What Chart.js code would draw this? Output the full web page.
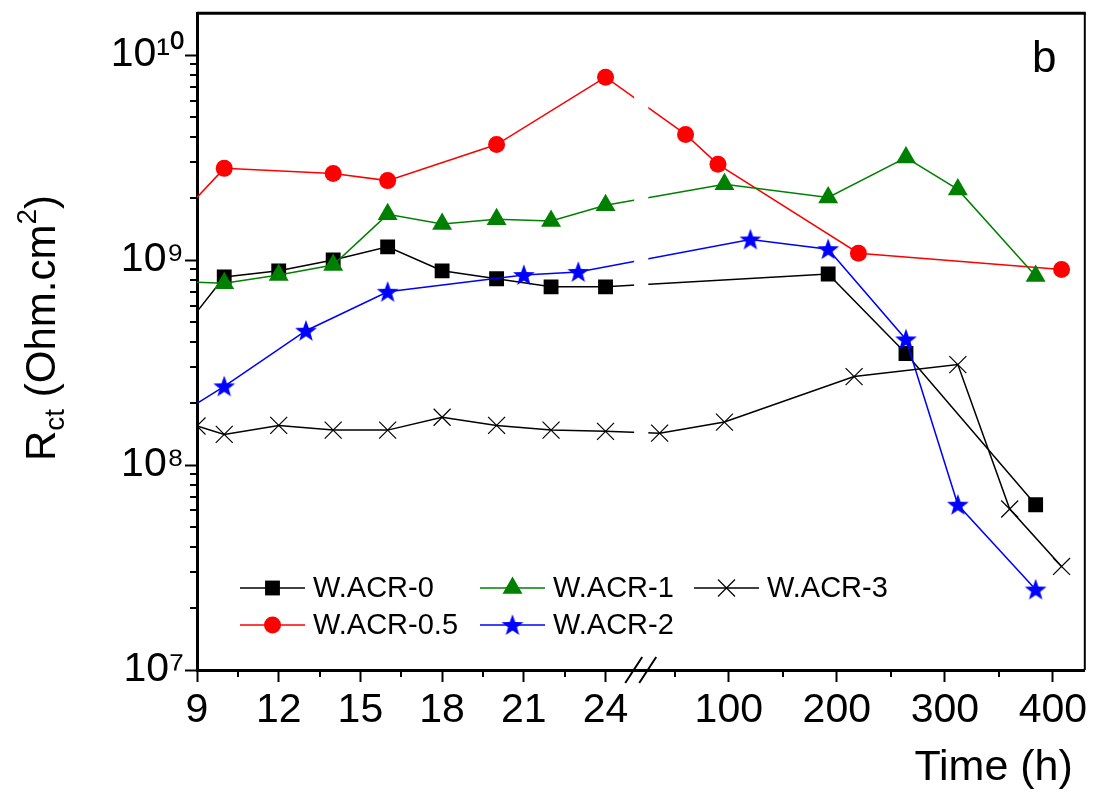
<!DOCTYPE html>
<html><head><meta charset="utf-8">
<script src="https://cdn.jsdelivr.net/npm/chart.js@4/dist/chart.umd.min.js"></script>
<style>html,body{margin:0;padding:0;background:#fff;} canvas{display:block;}</style>
</head><body>
<canvas id="c" width="1098" height="804"></canvas>
<script>
const FONT = "'Liberation Sans', Arial, sans-serif";

// ---------- data (hours, R_ct in Ohm.cm^2) ----------
const seriesNames = ['W.ACR-0', 'W.ACR-0.5', 'W.ACR-1', 'W.ACR-2', 'W.ACR-3'];

const hoursW0  = [8, 10, 12, 14, 16, 18, 20, 22, 24, 192, 264, 384];
const rctW0    = [3.8e8, 8.26e8, 8.86e8, 1.0e9, 1.16e9, 8.86e8, 8.1e8, 7.4e8, 7.4e8, 8.55e8, 3.5e8, 6.4e7];

const hoursW05 = [8, 10, 14, 16, 20, 24, 60, 90, 220, 408];
const rctW05   = [1.46e9, 2.8e9, 2.64e9, 2.44e9, 3.66e9, 7.8e9, 4.1e9, 2.93e9, 1.08e9, 9.0e8];

const hoursW1  = [8, 10, 12, 14, 16, 18, 20, 22, 24, 96, 192, 264, 312, 384];
const rctW1    = [7.9e8, 7.7e8, 8.45e8, 9.46e8, 1.67e9, 1.5e9, 1.58e9, 1.55e9, 1.85e9, 2.34e9, 2.02e9, 3.16e9, 2.21e9, 8.36e8];

const hoursW2  = [8, 10, 13, 16, 21, 23, 120, 192, 264, 312, 384];
const rctW2    = [1.65e8, 2.42e8, 4.52e8, 7.0e8, 8.45e8, 8.75e8, 1.26e9, 1.13e9, 4.1e8, 6.4e7, 2.47e7];

const hoursW3  = [9, 10, 12, 14, 16, 18, 20, 22, 24, 36, 96, 216, 312, 360, 408];
const rctW3    = [1.55e8, 1.41e8, 1.56e8, 1.48e8, 1.48e8, 1.71e8, 1.56e8, 1.48e8, 1.46e8, 1.43e8, 1.62e8, 2.7e8, 3.09e8, 6.1e7, 3.2e7];

const xTickHours  = [9, 12, 15, 18, 21, 24, 100, 200, 300, 400];
const xTickLabels = ['9', '12', '15', '18', '21', '24', '100', '200', '300', '400'];
const xMinorHours = [10.5, 13.5, 16.5, 19.5, 22.5, 50, 150, 250, 350];
const yTickValues = [1e7, 1e8, 1e9, 1e10];
const yTickLabels = ['10\u2077', '10\u2078', '10\u2079', '10\u00B9\u2070'];

// ---------- broken x axis: hours -> axis units ----------
const U100 = 28.525, K_RIGHT = 0.039672;
function toAxis(h) { return h <= 25 ? h : U100 + (h - 100) * K_RIGHT; }
const X_MIN = 9, X_MAX = toAxis(429.5);
const GAP_FROM = 25.05, GAP_TO = 25.57;

// ---------- markers ----------
const starImg = (() => {
  const c = document.createElement('canvas'); c.width = 24; c.height = 24;
  const g = c.getContext('2d'); g.fillStyle = '#0000ff'; g.beginPath();
  for (let i = 0; i < 10; i++) {
    const r = i % 2 === 0 ? 11.5 : 4.7;
    const a = -Math.PI / 2 + i * Math.PI / 5;
    const px = 12 + r * Math.cos(a), py = 12.8 + r * Math.sin(a);
    if (i) g.lineTo(px, py); else g.moveTo(px, py);
  }
  g.closePath(); g.fill(); return c;
})();

const colors = ['#000000', '#ff0000', '#008000', '#0000ff', '#000000'];
const styles = ['rect', 'circle', 'triangle', starImg, 'crossRot'];
const radii  = [10.5, 8.5, 11.5, 10, 12];
const hoursAll = [hoursW0, hoursW05, hoursW1, hoursW2, hoursW3];
const valuesAll = [rctW0, rctW05, rctW1, rctW2, rctW3];

const datasets = seriesNames.map((name, i) => ({
  label: name,
  data: hoursAll[i].map((h, j) => ({ x: toAxis(h), y: valuesAll[i][j] })),
  borderColor: colors[i],
  backgroundColor: colors[i],
  pointBackgroundColor: colors[i],
  pointBorderColor: colors[i],
  pointBorderWidth: i === 4 ? 1.2 : 0,
  pointStyle: styles[i],
  pointRadius: radii[i],
  borderWidth: 1.5,
  tension: 0,
  order: 5 - i
}));

function drawMarker(ctx, i, x, y) {
  const c = colors[i], r = radii[i];
  ctx.save(); ctx.fillStyle = c; ctx.strokeStyle = c;
  if (i === 0) { const s = r * Math.SQRT1_2; ctx.fillRect(x - s, y - s, 2 * s, 2 * s); }
  else if (i === 1) { ctx.beginPath(); ctx.arc(x, y, r, 0, 2 * Math.PI); ctx.fill(); }
  else if (i === 2) {
    ctx.beginPath();
    for (let k = 0; k < 3; k++) { const a = k * 2 * Math.PI / 3; const px = x + Math.sin(a) * r, py = y - Math.cos(a) * r; k ? ctx.lineTo(px, py) : ctx.moveTo(px, py); }
    ctx.closePath(); ctx.fill();
  }
  else if (i === 3) { ctx.drawImage(starImg, x - 12, y - 12); }
  else { const d = r * Math.SQRT1_2; ctx.lineWidth = 1.2; ctx.beginPath(); ctx.moveTo(x - d, y - d); ctx.lineTo(x + d, y + d); ctx.moveTo(x - d, y + d); ctx.lineTo(x + d, y - d); ctx.stroke(); }
  ctx.restore();
}

const legendSlots = [
  { x: 240, y: 588 }, { x: 240, y: 625 }, { x: 480, y: 588 }, { x: 480, y: 625 }, { x: 694, y: 588 }
];

const decor = {
  id: 'decor',
  afterDatasetsDraw(chart) {
    const { ctx, chartArea: a, scales: { x } } = chart;
    const g1 = x.getPixelForValue(GAP_FROM), g2 = x.getPixelForValue(GAP_TO);
    ctx.save(); ctx.fillStyle = '#ffffff';
    ctx.fillRect(g1, a.top + 3, g2 - g1, a.bottom - a.top - 6);
    ctx.restore();
  },
  afterDraw(chart) {
    const { ctx, chartArea: a, scales: { x, y } } = chart;
    ctx.save();
    ctx.strokeStyle = '#000'; ctx.lineCap = 'butt';
    // frame top & right
    ctx.lineWidth = 3; ctx.beginPath(); ctx.moveTo(a.left, a.top); ctx.lineTo(a.right + 1, a.top); ctx.stroke();
    ctx.lineWidth = 2; ctx.beginPath(); ctx.moveTo(a.right, a.top); ctx.lineTo(a.right, a.bottom); ctx.stroke();
    // minor ticks
    ctx.lineWidth = 2;
    for (let e = 7; e <= 9; e++) for (let m = 2; m <= 9; m++) {
      const py = Math.round(y.getPixelForValue(m * Math.pow(10, e)));
      ctx.beginPath(); ctx.moveTo(a.left - 7, py); ctx.lineTo(a.left, py); ctx.stroke();
    }
    xMinorHours.forEach(h => {
      const px = Math.round(x.getPixelForValue(toAxis(h)));
      ctx.beginPath(); ctx.moveTo(px, a.bottom); ctx.lineTo(px, a.bottom + 7); ctx.stroke();
    });
    // break marks
    const cx = x.getPixelForValue((GAP_FROM + GAP_TO) / 2);
    ctx.lineWidth = 2;
    ctx.beginPath();
    ctx.moveTo(cx - 16, a.bottom + 13); ctx.lineTo(cx + 1, a.bottom - 13);
    ctx.moveTo(cx - 2, a.bottom + 13); ctx.lineTo(cx + 15, a.bottom - 13);
    ctx.stroke();
    // legend
    ctx.font = '29px ' + FONT; ctx.textBaseline = 'middle'; ctx.fillStyle = '#000';
    chart.data.datasets.forEach((ds, i) => {
      const s = legendSlots[i];
      ctx.strokeStyle = ds.borderColor; ctx.lineWidth = 1.5;
      ctx.beginPath(); ctx.moveTo(s.x, s.y); ctx.lineTo(s.x + 65, s.y); ctx.stroke();
      drawMarker(ctx, i, s.x + 32.5, s.y);
      ctx.fillStyle = '#000';
      ctx.fillText(ds.label, s.x + 73, s.y + 1);
    });
    // panel letter
    ctx.font = '44px ' + FONT; ctx.textBaseline = 'alphabetic';
    ctx.fillText('b', 1032, 72);
    // y-axis title R_ct (Ohm.cm^2)
    ctx.translate(55, 328); ctx.rotate(-Math.PI / 2);
    const parts = [
      { t: 'R', s: 42, dy: 0 }, { t: 'ct', s: 28, dy: 9 },
      { t: ' (Ohm.cm', s: 42, dy: 0 }, { t: '2', s: 28, dy: -19 }, { t: ')', s: 42, dy: 0 }
    ];
    let total = 0;
    parts.forEach(p => { ctx.font = p.s + 'px ' + FONT; p.w = ctx.measureText(p.t).width; total += p.w; });
    let px = -total / 2;
    parts.forEach(p => { ctx.font = p.s + 'px ' + FONT; ctx.fillText(p.t, px, p.dy); px += p.w; });
    ctx.restore();
  }
};

const tickGrid = { display: true, drawOnChartArea: false, drawTicks: true, tickLength: 12, tickWidth: 2, tickColor: '#000' };

new Chart(document.getElementById('c'), {
  type: 'line',
  data: { datasets },
  options: {
    responsive: false,
    animation: false,
    layout: { padding: { top: 10, right: 8, left: 0, bottom: 0 } },
    plugins: { legend: { display: false }, tooltip: { enabled: false } },
    scales: {
      x: {
        type: 'linear', min: X_MIN, max: X_MAX,
        afterBuildTicks: s => { s.ticks = xTickHours.map(h => ({ value: toAxis(h) })); },
        afterFit: s => { s.height = 134; s.paddingLeft = 0; s.paddingRight = 0; },
        ticks: { autoSkip: false, maxRotation: 0, padding: 4, color: '#000', font: { family: FONT, size: 41 }, callback: (v, i) => xTickLabels[i] },
        grid: tickGrid,
        border: { display: true, color: '#000', width: 3 },
        title: { display: true, text: 'Time (h) ', align: 'end', color: '#000', font: { family: FONT, size: 43 }, padding: { top: 0, bottom: 10 } }
      },
      y: {
        type: 'logarithmic', min: 1e7, max: 1.6e10,
        afterBuildTicks: s => { s.ticks = yTickValues.map(v => ({ value: v })); },
        afterFit: s => { s.width = 197; s.paddingTop = 0; s.paddingBottom = 0; },
        ticks: { autoSkip: false, padding: 1, color: '#000', font: { family: FONT, size: 41 }, callback: (v, i) => yTickLabels[i] },
        grid: tickGrid,
        border: { display: true, color: '#000', width: 3 }
      }
    }
  },
  plugins: [decor]
});
</script>
</body></html>
